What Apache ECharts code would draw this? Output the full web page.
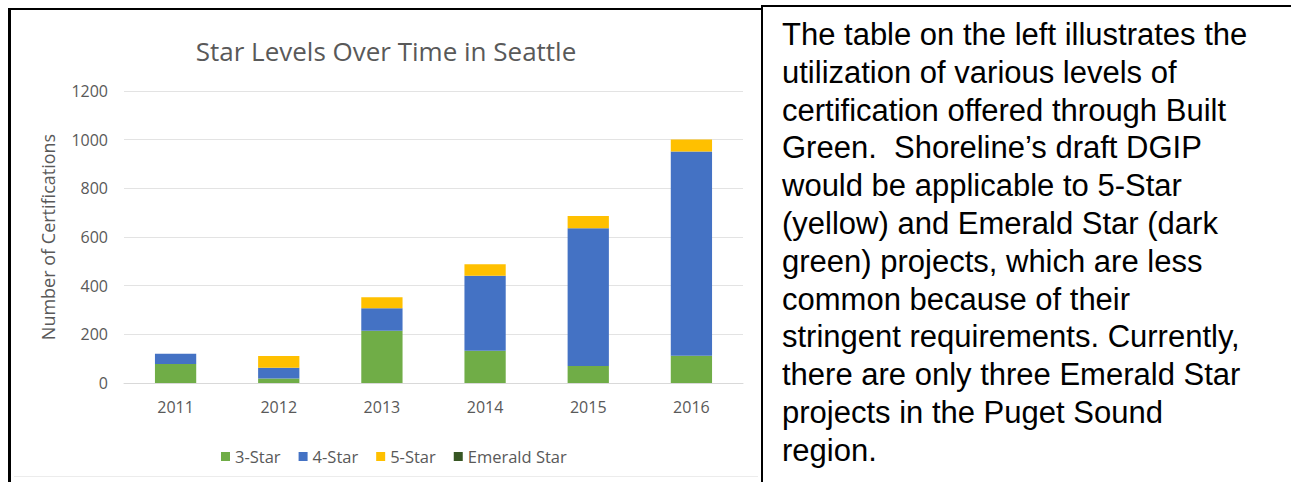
<!DOCTYPE html>
<html>
<head>
<meta charset="utf-8">
<script src="https://cdn.jsdelivr.net/npm/echarts@6/dist/echarts.min.js"></script>
<style>
  html, body { margin: 0; padding: 0; background: #fff; width: 1291px; height: 482px; overflow: hidden; }
  #chart { position: absolute; left: 0; top: 0; width: 1291px; height: 482px; }
  .bl { position: absolute; background: #000; }
  #text { position: absolute; left: 782px; top: 16px; font-family: "Liberation Sans", Arial, sans-serif;
          font-size: 31px; line-height: 37.8px; color: #000; white-space: nowrap; }
</style>
</head>
<body>
<div id="chart"></div>
<div style="position:absolute; left:14px; top:476px; width:744px; height:1px; background:#ececec;"></div>
<div class="bl" style="left:8px; top:8px; width:3px; height:474px;"></div>
<div class="bl" style="left:8px; top:8px; width:754px; height:2px;"></div>
<div class="bl" style="left:761px; top:5px; width:2px; height:477px;"></div>
<div class="bl" style="left:761px; top:5px; width:530px; height:2px;"></div>
<div id="text"></div>
<script>
const years = ['2011', '2012', '2013', '2014', '2015', '2016'];
const star3 = [78, 19, 215, 133, 70, 112];
const star4 = [42, 44, 92, 308, 566, 839];
const star5 = [0, 48, 45, 47, 50, 50];
const emerald = [0, 0, 0, 0, 0, 0];
const yTicks = { min: 0, max: 1200, interval: 200 };
const titleText = 'Star Levels Over Time in Seattle';
const yName = 'Number of Certifications';
const paragraphLines = [
  'The table on the left illustrates the',
  'utilization of various levels of',
  'certification offered through Built',
  'Green.\u00a0 Shoreline\u2019s draft DGIP',
  'would be applicable to 5-Star',
  '(yellow) and Emerald Star (dark',
  'green) projects, which are less',
  'common because of their',
  'stringent requirements. Currently,',
  'there are only three Emerald Star',
  'projects in the Puget Sound',
  'region.'
];

document.getElementById('text').innerHTML = paragraphLines.map(l => l.replace(/&/g,'&amp;')).join('<br>');

const font = '"Open Sans", "Noto Sans", sans-serif';
const grey = '#595959';
const chart = echarts.init(document.getElementById('chart'), null, { renderer: 'svg' });
const mk = (name, data, color) => ({
  name, type: 'bar', stack: 'total', data, barWidth: '40%',
  itemStyle: { color }, emphasis: { disabled: true }
});
chart.setOption({
  animation: false,
  title: {
    text: titleText, left: 381, top: 33, textAlign: 'center',
    textStyle: { fontFamily: font, fontSize: 26, fontWeight: 'normal', color: grey }
  },
  legend: {
    data: ['3-Star', '4-Star', '5-Star', 'Emerald Star'],
    left: 216, top: 443, itemWidth: 9, itemHeight: 9, itemGap: 18,
    icon: 'rect',
    textStyle: { fontFamily: font, fontSize: 16.5, color: grey }
  },
  grid: { left: 124, right: 548, top: 91, bottom: 99 },
  xAxis: {
    type: 'category', data: years,
    axisLine: { lineStyle: { color: '#d9d9d9' } },
    axisTick: { show: false },
    axisLabel: { fontFamily: font, fontSize: 16, color: grey, margin: 16 }
  },
  yAxis: {
    type: 'value', min: yTicks.min, max: yTicks.max, interval: yTicks.interval,
    name: yName, nameLocation: 'middle', nameGap: 67, nameRotate: 90,
    nameTextStyle: { fontFamily: font, fontSize: 18, color: grey },
    axisLine: { show: false }, axisTick: { show: false },
    axisLabel: { fontFamily: font, fontSize: 16, color: grey, margin: 16, formatter: v => String(v) },
    splitLine: { lineStyle: { color: '#e3e3e3' } }
  },
  series: [
    mk('3-Star', star3, '#70AD47'),
    mk('4-Star', star4, '#4472C4'),
    mk('5-Star', star5, '#FFC000'),
    mk('Emerald Star', emerald, '#375623')
  ]
});
</script>
</body>
</html>
